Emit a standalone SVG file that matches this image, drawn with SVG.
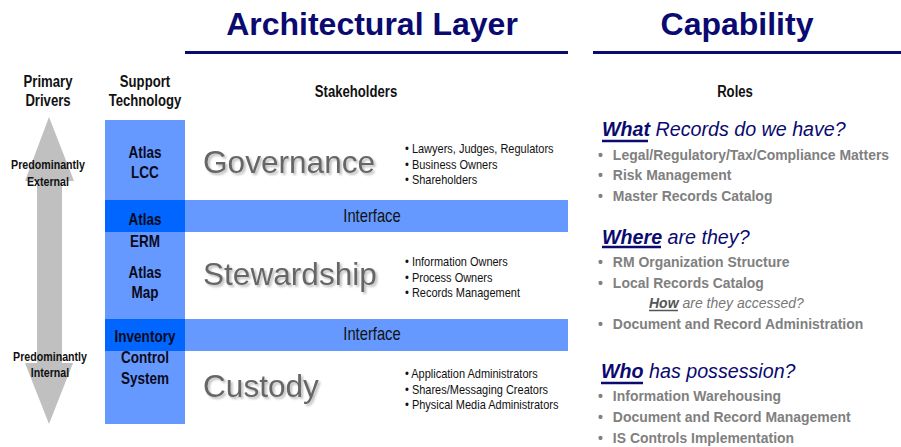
<svg xmlns="http://www.w3.org/2000/svg" width="901" height="447" viewBox="0 0 901 447">
  <defs>
    <style>
      .title { font-family: "Liberation Sans", Arial, sans-serif; font-weight: bold; font-size: 32px; fill: #0a0a70; text-anchor: middle; }
      .rule { stroke: #0a0a70; stroke-width: 3; }
      .hdr { font-family: "Liberation Sans", Arial, sans-serif; font-weight: bold; font-size: 16px; fill: #111; text-anchor: middle; }
      .drv { font-family: "Liberation Sans", Arial, sans-serif; font-weight: bold; font-size: 13px; fill: #111; text-anchor: middle; }
      .tech { font-family: "Liberation Sans", Arial, sans-serif; font-weight: bold; font-size: 16.5px; fill: #0a0a1a; text-anchor: middle; }
      .col { fill: #6699ff; }
      .dark { fill: #0066ff; }
      .iface { font-family: "Liberation Sans", Arial, sans-serif; font-size: 18px; fill: #111; text-anchor: middle; }
      .layer { font-family: "Liberation Sans", Arial, sans-serif; font-size: 31.6px; fill: #666; filter: url(#drop); }
      .sh { font-family: "Liberation Sans", Arial, sans-serif; font-size: 13.4px; fill: #111; }
      .q { font-family: "Liberation Sans", Arial, sans-serif; font-style: italic; font-size: 20.5px; fill: #0a0a70; }
      .q .k { font-weight: bold; }
      .qline { stroke: #0a0a70; stroke-width: 2.5; }
      .item { font-family: "Liberation Sans", Arial, sans-serif; font-weight: bold; font-size: 15px; fill: #808080; }
      .how { font-family: "Liberation Sans", Arial, sans-serif; font-style: italic; font-size: 14px; fill: #777; }
      .how .k { font-weight: bold; fill: #555; }
    </style>
    <!-- soft grey drop shadow for the layer names -->
    <filter id="drop" x="-5%" y="-20%" width="115%" height="150%">
      <feGaussianBlur in="SourceAlpha" stdDeviation="0.8" result="b"/>
      <feOffset in="b" dx="2" dy="2" result="o"/>
      <feFlood flood-color="#bdbdbd"/>
      <feComposite in2="o" operator="in" result="s"/>
      <feMerge>
        <feMergeNode in="s"/>
        <feMergeNode in="SourceGraphic"/>
      </feMerge>
    </filter>
  </defs>

  <rect width="901" height="447" fill="#ffffff"/>

  <!-- Section titles -->
  <g id="title-architecture">
    <text class="title" x="372" y="35">Architectural Layer</text>
    <line class="rule" x1="185" y1="52.5" x2="568" y2="52.5"/>
  </g>
  <g id="title-capability">
    <text class="title" x="737" y="35">Capability</text>
    <line class="rule" x1="593" y1="52.5" x2="901" y2="52.5"/>
  </g>

  <!-- Column headers (condensed by horizontal scaling) -->
  <g id="headers">
    <text class="hdr" transform="translate(48,87) scale(0.82,1)">Primary</text>
    <text class="hdr" transform="translate(48,106) scale(0.82,1)">Drivers</text>
    <text class="hdr" transform="translate(145,87) scale(0.82,1)">Support</text>
    <text class="hdr" transform="translate(145,106) scale(0.82,1)">Technology</text>
    <text class="hdr" transform="translate(356,97) scale(0.82,1)">Stakeholders</text>
    <text class="hdr" transform="translate(735,97) scale(0.82,1)">Roles</text>
  </g>

  <!-- Primary drivers: two-headed vertical arrow -->
  <g id="drivers">
    <polygon fill="#c0c0c0" points="49,117 74,181 62,181 62,363 73,363 49,424 25,363 37,363 37,181 25,181"/>
    <text class="drv" transform="translate(48,169) scale(0.82,1)">Predominantly</text>
    <text class="drv" transform="translate(48,186) scale(0.82,1)">External</text>
    <text class="drv" transform="translate(50,361) scale(0.82,1)">Predominantly</text>
    <text class="drv" transform="translate(50,377) scale(0.82,1)">Internal</text>
  </g>

  <!-- Support technology column -->
  <g id="technology">
    <rect class="col" x="105" y="120" width="80" height="304"/>
    <rect class="dark" x="105" y="200" width="80" height="32"/>
    <rect class="dark" x="105" y="319" width="80" height="32"/>
    <text class="tech" transform="translate(145,158) scale(0.82,1)">Atlas</text>
    <text class="tech" transform="translate(145,178) scale(0.82,1)">LCC</text>
    <text class="tech" transform="translate(145,225) scale(0.82,1)">Atlas</text>
    <text class="tech" transform="translate(145,247) scale(0.82,1)">ERM</text>
    <text class="tech" transform="translate(145,278) scale(0.82,1)">Atlas</text>
    <text class="tech" transform="translate(145,298) scale(0.82,1)">Map</text>
    <text class="tech" transform="translate(145,342) scale(0.82,1)">Inventory</text>
    <text class="tech" transform="translate(145,363) scale(0.82,1)">Control</text>
    <text class="tech" transform="translate(145,384) scale(0.82,1)">System</text>
  </g>

  <!-- Interface bands -->
  <g id="interface-1">
    <rect class="col" x="185" y="200" width="383" height="32"/>
    <text class="iface" transform="translate(372,222) scale(0.82,1)">Interface</text>
  </g>
  <g id="interface-2">
    <rect class="col" x="185" y="319" width="383" height="32"/>
    <text class="iface" transform="translate(372,340) scale(0.82,1)">Interface</text>
  </g>

  <!-- Architectural layers -->
  <g id="governance">
    <text class="layer" x="203" y="173">Governance</text>
    <text class="sh" transform="translate(405,153) scale(0.82,1)">• Lawyers, Judges, Regulators</text>
    <text class="sh" transform="translate(405,169) scale(0.82,1)">• Business Owners</text>
    <text class="sh" transform="translate(405,184) scale(0.82,1)">• Shareholders</text>
  </g>
  <g id="stewardship">
    <text class="layer" x="203" y="285">Stewardship</text>
    <text class="sh" transform="translate(405,266) scale(0.82,1)">• Information Owners</text>
    <text class="sh" transform="translate(405,282) scale(0.82,1)">• Process Owners</text>
    <text class="sh" transform="translate(405,297) scale(0.82,1)">• Records Management</text>
  </g>
  <g id="custody">
    <text class="layer" x="203" y="397">Custody</text>
    <text class="sh" transform="translate(405,378) scale(0.82,1)">• Application Administrators</text>
    <text class="sh" transform="translate(405,394) scale(0.82,1)">• Shares/Messaging Creators</text>
    <text class="sh" transform="translate(405,409) scale(0.82,1)">• Physical Media Administrators</text>
  </g>

  <!-- Capability roles -->
  <g id="what">
    <text class="q" transform="translate(602,136) scale(0.96,1)"><tspan class="k">What</tspan> Records do we have?</text>
    <line class="qline" x1="602" y1="141" x2="648" y2="141"/>
    <g transform="translate(598,0) scale(0.93,1)">
      <text class="item" y="160"><tspan x="0">•</tspan><tspan x="16">Legal/Regulatory/Tax/Compliance Matters</tspan></text>
      <text class="item" y="180"><tspan x="0">•</tspan><tspan x="16">Risk Management</tspan></text>
      <text class="item" y="201"><tspan x="0">•</tspan><tspan x="16">Master Records Catalog</tspan></text>
    </g>
  </g>
  <g id="where">
    <text class="q" transform="translate(602,244) scale(0.96,1)"><tspan class="k">Where</tspan> are they?</text>
    <line class="qline" x1="602" y1="247" x2="661" y2="247"/>
    <g transform="translate(598,0) scale(0.93,1)">
      <text class="item" y="267"><tspan x="0">•</tspan><tspan x="16">RM Organization Structure</tspan></text>
      <text class="item" y="288"><tspan x="0">•</tspan><tspan x="16">Local Records Catalog</tspan></text>
      <text class="item" y="329"><tspan x="0">•</tspan><tspan x="16">Document and Record Administration</tspan></text>
    </g>
    <text class="how" x="649" y="308"><tspan class="k">How</tspan> are they accessed?</text>
    <line stroke="#555" stroke-width="1.5" x1="649" y1="310.5" x2="678" y2="310.5"/>
  </g>
  <g id="who">
    <text class="q" transform="translate(601,378) scale(0.96,1)"><tspan class="k">Who</tspan> has possession?</text>
    <line class="qline" x1="601" y1="383" x2="643" y2="383"/>
    <g transform="translate(598,0) scale(0.93,1)">
      <text class="item" y="401"><tspan x="0">•</tspan><tspan x="16">Information Warehousing</tspan></text>
      <text class="item" y="422"><tspan x="0">•</tspan><tspan x="16">Document and Record Management</tspan></text>
      <text class="item" y="443"><tspan x="0">•</tspan><tspan x="16">IS Controls Implementation</tspan></text>
    </g>
  </g>
</svg>
